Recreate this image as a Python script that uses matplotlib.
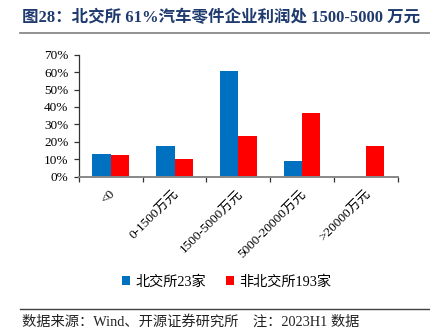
import numpy as np
import matplotlib.pyplot as plt
from matplotlib.lines import Line2D

plt.rcParams['font.family'] = ['Liberation Serif', 'Noto Sans CJK SC']

categories = ['<0', '0-1500万元', '1500-5000万元', '5000-20000万元', '>20000万元']
bse_share = [13.0, 17.4, 60.9, 8.7, 0.0]        # 北交所23家
non_bse_share = [12.4, 9.8, 23.3, 36.8, 17.6]   # 非北交所193家
yticks = [0, 10, 20, 30, 40, 50, 60, 70]

BLUE = '#0070C0'
RED = '#FF0000'

fig = plt.figure(figsize=(4.31, 3.36), dpi=100)
ax = fig.add_axes([0.183, 0.4747, 0.740, 0.362])

x = np.arange(len(categories))
w = 0.287
ax.bar(x - w / 2, bse_share, w, color=BLUE, label='北交所23家')
ax.bar(x + w / 2, non_bse_share, w, color=RED, label='非北交所193家')

ax.set_xlim(-0.5, len(categories) - 0.5)
ax.set_ylim(0, 70)
ax.set_yticks(yticks)
ax.set_yticklabels([f'{v}%' for v in yticks], fontsize=9.5)

# category names at centres, tick marks at the group boundaries
ax.set_xticks(x + 0.04)
ax.set_xticklabels(categories, fontsize=9.5, rotation=45, ha='right',
                   va='center', rotation_mode='anchor')
ax.tick_params(axis='x', which='major', length=0, pad=11)
ax.set_xticks(np.arange(-0.5, len(categories)), minor=True)
ax.tick_params(axis='x', which='minor', length=3.5, width=0.9, color='#333333')
ax.tick_params(axis='y', length=3.5, width=0.9, color='#333333', pad=4)

for s in ['top', 'right']:
    ax.spines[s].set_visible(False)
ax.spines['left'].set_color('#333333')
ax.spines['left'].set_linewidth(0.9)
ax.spines['bottom'].set_color('#888888')
ax.spines['bottom'].set_linewidth(1.4)

leg = fig.legend(loc='center', bbox_to_anchor=(0.525, 1 - 282 / 336), ncol=2,
                 frameon=False, fontsize=10.2, handlelength=0.6, handleheight=0.6,
                 handletextpad=0.35, columnspacing=1.4)

# title and rules
fig.text(22 / 431, 1 - 18 / 336, '图28：北交所 61%汽车零件企业利润处 1500-5000 万元',
         fontsize=11.9, fontweight='bold', color='#1F3A6E', va='center', ha='left')
fig.add_artist(Line2D([20 / 431, 1.0], [1 - 32.5 / 336] * 2, color='#7F7F7F', lw=1.2))
fig.add_artist(Line2D([20 / 431, 1.0], [1 - 309 / 336] * 2, color='#404040', lw=1.0))
fig.text(22 / 431, 1 - 322 / 336, '数据来源：Wind、开源证券研究所    注：2023H1 数据',
         fontsize=10.3, color='#222222', va='center', ha='left')

fig.savefig('out.png', dpi=100)
